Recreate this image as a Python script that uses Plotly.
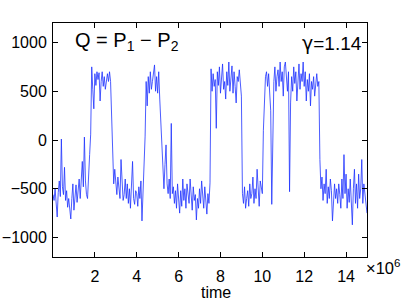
import plotly.graph_objects as go

# Q = P1 - P2 sampled every 0.05e6 time units, from t=0 to t=15e6
q_values = [
    -560, -620, -500, -650, -790, -540, -420, -580, 10, -480,
    -560, -280, -620, -520, -690, -600, -720, -810, -600, -450,
    -720, -560, -460, -640, -520, -400, -600, -450, -220, -480,
    30, -420, -560, -600, -300, -150, 60, 750, 520, 320,
    680, 560, 700, 620, 690, 400, 600, 700, 550, 650,
    520, 620, 680, 600, 700, 600, 280, -100, -450, -300,
    -400, -560, -380, -480, -600, -200, -500, -620, -560, -400,
    -600, -450, -650, -500, -700, -400, -220, -600, -660, -520,
    -550, -680, -480, -600, -420, -830, -520, -350, 40, 600,
    350, 650, 480, 700, 520, 600, 720, 770, 500, 650,
    480, 700, 420, 200, -170, -350, -500, -250, -50, -450,
    -550, -400, -600, 170, -550, -480, -650, -520, -700, -450,
    -600, -750, -520, -680, -400, -620, -500, -700, -450, -580,
    -650, -400, -550, -720, -480, -620, -560, -820, -600, -700,
    -500, -650, -420, -580, -700, -480, -600, -760, -550, -650,
    -440, 730, 500, 680, 550, 620, 120, 700, 560, 750,
    480, 650, 780, 520, 600, 420, 700, 560, 800, 500,
    620, 760, 480, 700, 550, 380, 650, 600, 720, 560,
    450, -550, -650, -480, -700, -600, -520, -680, -450, -600,
    -550, -380, -650, -500, -600, -300, -550, -680, -420, -500,
    -550, 100, 450, 650, 700, 550, 680, 450, 300, -660,
    200, 600, 750, 500, 650, 720, 550, 800, 600, 700,
    450, 750, 800, 600, 500, 700, -530, 380, 650, 500,
    750, 580, 700, 400, 650, 780, 520, 680, 600, 800,
    550, 700, 400, 620, 500, 680, 350, 600, 520, 650,
    450, 620, 680, 550, 600, -200, -500, -380, -620, -450,
    -550, -300, -650, -480, -600, -400, -520, -830, -600, -450,
    -600, -500, -650, -450, -560, -700, -400, -600, -150, -550,
    -350, -700, -500, -640, -400, -600, -870, -500, -300, -650,
    -450, -700, -350, -600, -500, -200, -650, -450, -550, -700,
    -750,
]
time_start = 0
time_step = 50000

x_tickvals = [2e6, 4e6, 6e6, 8e6, 10e6, 12e6, 14e6]
x_ticktext = ["2", "4", "6", "8", "10", "12", "14"]
y_tickvals = [-1000, -500, 0, 500, 1000]
y_ticktext = ["\u22121000", "\u2212500", "0", "500", "1000"]

FONT = "Liberation Sans, Arial, Helvetica, sans-serif"

fig = go.Figure()
fig.add_trace(go.Scatter(
    y=q_values, x0=time_start, dx=time_step, mode="lines",
    line=dict(color="rgb(30,50,255)", width=0.8),
    showlegend=False, hoverinfo="skip",
))

axis_common = dict(
    showline=True, linecolor="black", linewidth=1, mirror="ticks",
    ticks="inside", ticklen=5, tickcolor="black", tickwidth=1,
    showgrid=False, zeroline=False, automargin=False,
    tickfont=dict(family=FONT, size=16, color="black"),
)

fig.update_layout(
    width=404, height=305,
    margin=dict(l=53, r=37, t=23, b=48),
    paper_bgcolor="white", plot_bgcolor="white",
    font=dict(family=FONT, color="black"),
    xaxis=dict(range=[0, 15e6], tickvals=x_tickvals, ticktext=x_ticktext,
               ticklabelstandoff=5, **axis_common),
    yaxis=dict(range=[-1200, 1200], tickvals=y_tickvals, ticktext=y_ticktext,
               ticklabelstandoff=2, **axis_common),
    annotations=[
        dict(text="Q = P<sub>1</sub> \u2212 P<sub>2</sub>", xref="paper", yref="paper",
             x=0.063, y=0.92, xanchor="left", yanchor="middle", showarrow=False,
             font=dict(family=FONT, size=20, color="black")),
        dict(text="<span style='font-family:DejaVu Sans'>\u03b3</span>=1.14",
             xref="paper", yref="paper",
             x=0.99, y=0.915, xanchor="right", yanchor="middle", showarrow=False,
             font=dict(family=FONT, size=19, color="black")),
        dict(text="\u00d710<sup>6</sup>", xref="paper", yref="paper",
             x=0.993, y=0.005, xanchor="left", yanchor="top", showarrow=False,
             borderpad=0,
             font=dict(family=FONT, size=16.5, color="black")),
        dict(text="time", xref="paper", yref="paper",
             x=0.52, y=-0.112, xanchor="center", yanchor="top", showarrow=False,
             borderpad=0,
             font=dict(family=FONT, size=16, color="black")),
    ],
)

fig.write_html("out.html", config={"displayModeBar": False},
               post_script="document.body.style.margin='0';")
